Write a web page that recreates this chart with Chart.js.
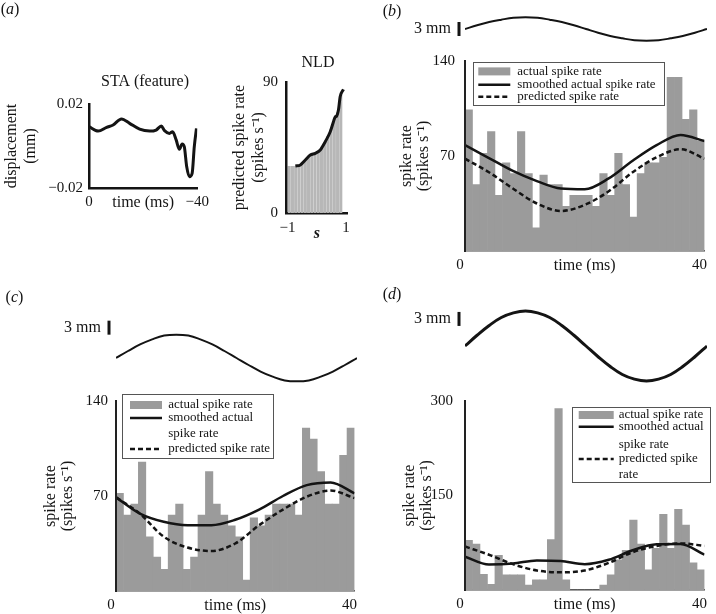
<!DOCTYPE html>
<html>
<head>
<meta charset="utf-8">
<title>Spike rate figure</title>
<script src="https://cdn.jsdelivr.net/npm/chart.js@4.4.1/dist/chart.umd.min.js"></script>
<style>
  html, body { margin: 0; padding: 0; background: #fff; }
  #fig { position: relative; width: 716px; height: 614px; overflow: hidden; }
  #fig canvas { position: absolute; }
</style>
</head>
<body>
<div id="fig">
  <canvas id="staChart"></canvas>
  <canvas id="nldChart"></canvas>
  <canvas id="stimB"></canvas>
  <canvas id="rateB"></canvas>
  <canvas id="stimC"></canvas>
  <canvas id="rateC"></canvas>
  <canvas id="stimD"></canvas>
  <canvas id="rateD"></canvas>
</div>
<script>
// ---- values ----

// (a) STA: time before spike (ms), displacement (mm)
var staTimes = [0, -3.4, -6.5, -8.9, -12, -15, -18.7, -22.4, -24.8, -26.7, -27.9, -29.7, -30.9, -32.2, -33.4, -34.4, -35.2, -36.1, -37.1, -38.1, -38.9, -39.7];
var staValues = [0.0092, 0.0071, 0.0089, 0.0100, 0.0129, 0.0108, 0.0080, 0.0071, 0.0076, 0.0095, 0.0073, 0.0060, 0.0068, 0.0029, -0.0016, 0.0010, -0.0003, -0.0099, -0.0146, -0.0130, -0.0003, 0.0084];

// (a) NLD: projection s, predicted spike rate
var nldS = [-0.94, -0.83, -0.72, -0.61, -0.5, -0.39, -0.28, -0.17, -0.06, 0.05, 0.16, 0.27, 0.38, 0.49, 0.6, 0.71, 0.82];
var nldBars = [32, 32, 32, 33, 34, 36, 39, 40.5, 41, 42.5, 44.5, 48, 52.5, 57.5, 64.5, 69, 81];
var nldLineS = [-0.73, -0.56, -0.39, -0.22, -0.05, 0.12, 0.29, 0.46, 0.57, 0.63, 0.68, 0.74, 0.8, 0.91];
var nldLine = [32.3, 33, 36.4, 39.8, 41, 43.3, 49, 55.8, 62.7, 66, 66.6, 70.7, 80, 85];

// stimulus traces (mm), sampled every 2 ms
var stimTimes = [0, 2, 4, 6, 8, 10, 12, 14, 16, 18, 20, 22, 24, 26, 28, 30, 32, 34, 36, 38, 40];
var stimB = [0, 0.8, 1.5, 2.0, 2.4, 2.5, 2.4, 2.0, 1.5, 0.8, 0, -0.8, -1.5, -2.0, -2.4, -2.5, -2.4, -2.0, -1.5, -0.8, 0];
var stimC = [0, 1.5, 2.9, 4.0, 4.8, 5.0, 4.8, 4.0, 2.9, 1.5, 0, -1.5, -2.9, -4.0, -4.8, -5.0, -4.8, -4.0, -2.9, -1.5, 0];
var stimD = [0, 2.3, 4.4, 6.1, 7.1, 7.5, 7.1, 6.1, 4.4, 2.3, 0, -2.3, -4.4, -6.1, -7.1, -7.5, -7.1, -6.1, -4.4, -2.3, 0];

// spike rates (spikes/s): 32 histogram bins over 40 ms, curves sampled every 4 ms
var lineTimes = [0, 4, 8, 12, 16, 20, 24, 28, 32, 36, 40];
var barsB = [104, 49, 72, 88, 41, 65, 57, 88, 57, 17, 56, 49, 49, 33, 41, 41, 41, 33, 57, 41, 72, 49, 25, 57, 65, 65, 69, 128, 128, 97, 104, 81];
var smoothB = [78, 68.5, 59, 51.5, 46, 45.5, 53.5, 66.5, 78, 85.5, 81];
var predB = [68, 58, 46, 35, 29.5, 34, 44, 58, 69, 75, 68];

var barsC = [72, 56, 64, 95, 40, 25, 16, 56, 64, 16, 25, 56, 88, 64, 56, 48, 40, 8, 54, 48, 56, 64, 64, 64, 56, 120, 112, 88, 64, 64, 100, 120];
var smoothC = [69, 57, 51, 48.5, 48.5, 52.5, 60, 70, 78, 80, 72];
var predC = [69, 57, 40, 32, 29.5, 35, 48.5, 60, 69.5, 74, 68.5];

var barsD = [79, 73, 25, 9, 55, 24, 24, 24, 8, 16, 16, 80, 288, 16, 0, 0, 0, 0, 8, 24, 48, 63, 111, 73, 32, 66, 120, 66, 128, 103, 43, 32];
var smoothD = [53, 40.5, 42, 47, 46, 41, 48, 63, 72.5, 73, 56];
var predD = [69, 56, 41, 31, 28, 31, 43, 60, 70, 74, 70];

// ---- styling ----
var ink = '#141414';
var barGray = '#9b9b9b';
var serif = "'Liberation Serif', 'Times New Roman', serif";

Chart.defaults.font.family = serif;
Chart.defaults.font.size = 15;
Chart.defaults.color = ink;
Chart.defaults.animation = false;
Chart.defaults.plugins.legend.display = false;
Chart.defaults.plugins.tooltip.enabled = false;

function points(xs, ys) {
  return xs.map(function (x, i) { return { x: x, y: ys[i] }; });
}

function minusLabel(v) {
  return v < 0 ? '\u2212' + Math.abs(v) : '' + v;
}

function placeCanvas(id, left, top, width, height) {
  var c = document.getElementById(id);
  c.width = width;
  c.height = height;
  c.style.left = left + 'px';
  c.style.top = top + 'px';
  return c.getContext('2d');
}

function fixedTicks(values) {
  return function (scale) {
    scale.ticks = values.map(function (v) { return { value: v }; });
  };
}

var noGrid = { display: false, drawTicks: false };

// free text and panel letters, given in page coordinates
var notes = {
  id: 'notes',
  defaults: {},
  afterDraw: function (chart, args, opts) {
    var ctx = chart.ctx;
    var ox = chart.canvas.offsetLeft, oy = chart.canvas.offsetTop;
    ctx.save();
    ctx.fillStyle = ink;
    ctx.textBaseline = 'middle';
    (opts.items || []).forEach(function (it) {
      ctx.font = '16px ' + serif;
      ctx.textAlign = 'center';
      ctx.fillText(it.text, it.x - ox, it.y - oy);
    });
    (opts.labels || []).forEach(function (lb) {
      var up = '16px ' + serif, it = 'italic 16px ' + serif;
      ctx.font = up;
      var wp = ctx.measureText('(').width;
      ctx.font = it;
      var wl = ctx.measureText(lb.letter).width;
      var x = lb.x - ox - (2 * wp + wl) / 2, y = lb.y - oy;
      ctx.textAlign = 'left';
      ctx.font = up;
      ctx.fillText('(', x, y);
      ctx.fillText(')', x + wp + wl, y);
      ctx.font = it;
      ctx.fillText(lb.letter, x + wp, y);
    });
    ctx.restore();
  }
};

// vertical 3 mm bar next to the stimulus trace
var scaleBar = {
  id: 'scaleBar',
  defaults: {},
  afterDraw: function (chart, args, opts) {
    if (!opts.label) return;
    var ctx = chart.ctx, ys = chart.scales.y;
    var x = chart.chartArea.left - opts.gap;
    var y1 = ys.getPixelForValue(opts.from);
    var y2 = ys.getPixelForValue(opts.from - opts.length);
    ctx.save();
    ctx.strokeStyle = ink;
    ctx.lineWidth = 3;
    ctx.beginPath();
    ctx.moveTo(x, y1);
    ctx.lineTo(x, y2);
    ctx.stroke();
    ctx.font = '16px ' + serif;
    ctx.fillStyle = ink;
    ctx.textAlign = 'right';
    ctx.textBaseline = 'middle';
    ctx.fillText(opts.label, x - 8, (y1 + y2) / 2);
    ctx.restore();
  }
};

// boxed legend inside the plot, samples styled from the datasets
var boxLegend = {
  id: 'boxLegend',
  defaults: {},
  afterDraw: function (chart, args, opts) {
    if (!opts.rows) return;
    var ctx = chart.ctx, a = chart.chartArea;
    var x0 = a.left + opts.x, y0 = a.top + opts.y;
    ctx.save();
    ctx.fillStyle = '#fff';
    ctx.fillRect(x0, y0, opts.w, opts.h);
    ctx.strokeStyle = '#555';
    ctx.lineWidth = 1;
    ctx.strokeRect(Math.round(x0) + 0.5, Math.round(y0) + 0.5, opts.w, opts.h);
    ctx.font = '13px ' + serif;
    ctx.textAlign = 'left';
    ctx.textBaseline = 'middle';
    opts.rows.forEach(function (row) {
      var y = y0 + row.y;
      var sx = x0 + opts.sampleX;
      var ds = row.ds >= 0 ? chart.data.datasets[row.ds] : null;
      if (ds && ds.type === 'bar') {
        ctx.fillStyle = ds.backgroundColor;
        ctx.fillRect(sx, y - 4, opts.sampleW, 8);
      } else if (ds) {
        ctx.strokeStyle = ds.borderColor;
        ctx.lineWidth = ds.borderWidth;
        ctx.setLineDash(ds.borderDash || []);
        ctx.beginPath();
        ctx.moveTo(sx, y);
        ctx.lineTo(sx + opts.sampleW, y);
        ctx.stroke();
        ctx.setLineDash([]);
      }
      ctx.fillStyle = ink;
      ctx.fillText(row.text, x0 + opts.textX, y);
    });
    ctx.restore();
  }
};

Chart.register(notes, scaleBar, boxLegend);

// (a) STA (feature)
var staChart = new Chart(placeCanvas('staChart', 0, 0, 214, 212), {
  type: 'line',
  data: {
    datasets: [{
      data: points(staTimes, staValues),
      borderColor: ink, borderWidth: 3, pointRadius: 0,
      cubicInterpolationMode: 'monotone'
    }]
  },
  options: {
    responsive: false,
    layout: { padding: { left: 0, top: 104, right: 16, bottom: 0 } },
    scales: {
      x: {
        type: 'linear', min: -40, max: 0, reverse: true,
        afterBuildTicks: fixedTicks([0, -40]),
        afterFit: function (s) { s.height = 24; },
        grid: noGrid,
        border: { color: ink, width: 2.5 },
        ticks: { padding: 5, maxRotation: 0, callback: minusLabel },
        title: { display: true, text: 'time (ms)', font: { size: 16 }, padding: 0 }
      },
      y: {
        min: -0.02, max: 0.02,
        afterBuildTicks: fixedTicks([-0.02, 0.02]),
        afterFit: function (s) { s.width = 89; },
        grid: noGrid,
        border: { color: ink, width: 2.5 },
        ticks: { padding: 6, callback: minusLabel },
        title: { display: true, text: ['displacement', '(mm)'], font: { size: 16 }, padding: { top: 2.4, bottom: 0 } }
      }
    },
    plugins: {
      notes: { labels: [{ letter: 'a', x: 10, y: 10 }], items: [{ text: 'STA (feature)', x: 145, y: 82 }] }
    }
  }
});

// (a) NLD
var nldChart = new Chart(placeCanvas('nldChart', 228, 45, 128, 198), {
  type: 'bar',
  data: {
    datasets: [{
      type: 'bar',
      data: points(nldS, nldBars),
      backgroundColor: '#b7b7b7', barThickness: 2.4, order: 2
    }, {
      type: 'line',
      data: points(nldLineS, nldLine),
      borderColor: ink, borderWidth: 3, pointRadius: 0,
      cubicInterpolationMode: 'monotone', order: 1
    }]
  },
  options: {
    responsive: false,
    layout: { padding: { left: 0, top: 37, right: 8, bottom: 0 } },
    scales: {
      x: {
        type: 'linear', min: -1.05, max: 1.05, offset: false,
        afterBuildTicks: fixedTicks([-1, 1]),
        afterFit: function (s) { s.height = 30; },
        grid: noGrid,
        border: { color: ink, width: 2.5 },
        ticks: { padding: 6, maxRotation: 0, callback: minusLabel },
        title: { display: true, text: 's', font: { size: 16, style: 'italic', weight: 'bold' }, padding: 0 }
      },
      y: {
        min: 0, max: 90,
        afterBuildTicks: fixedTicks([0, 90]),
        afterFit: function (s) { s.width = 58; },
        grid: noGrid,
        border: { color: ink, width: 2.5, z: 1 },
        ticks: { padding: 8 },
        title: { display: true, text: ['predicted spike rate', '(spikes s\u207B\u00B9)'], font: { size: 16 }, padding: { top: 2.4, bottom: 0 } }
      }
    },
    plugins: {
      notes: { items: [{ text: 'NLD', x: 318, y: 63 }] }
    }
  }
});

// stimulus traces above panels (b)-(d)
function stimulusPanel(id, left, top, width, height, padding, range, values, lineWidth, bar, letter) {
  return new Chart(placeCanvas(id, left, top, width, height), {
    type: 'line',
    data: {
      datasets: [{
        data: points(stimTimes, values),
        borderColor: ink, borderWidth: lineWidth, pointRadius: 0, tension: 0.4
      }]
    },
    options: {
      responsive: false,
      layout: { padding: padding },
      scales: {
        x: { type: 'linear', min: 0, max: 40, display: false },
        y: { min: -range, max: range, display: false }
      },
      plugins: { scaleBar: bar, notes: { labels: [letter] } }
    }
  });
}

var stimChartB = stimulusPanel('stimB', 370, 0, 342, 51, { left: 95, top: 8, right: 5, bottom: 1 }, 4.5, stimB, 2,
  { from: 1.5, length: 3, gap: 6, label: '3 mm' }, { letter: 'b', x: 392, y: 12 });
var stimChartC = stimulusPanel('stimC', 0, 285, 362, 118, { left: 116, top: 31, right: 5, bottom: 3 }, 9, stimC, 2,
  { from: 8, length: 3, gap: 7, label: '3 mm' }, { letter: 'c', x: 14.5, y: 298 });
var stimChartD = stimulusPanel('stimD', 370, 285, 342, 106, { left: 95, top: 19, right: 5, bottom: 3 }, 9, stimD, 3,
  { from: 7.3, length: 3, gap: 6, label: '3 mm' }, { letter: 'd', x: 392, y: 295 });

// spike rate panels: histogram, smoothed rate, predicted rate
function ratePanel(id, plot, bars, smooth, predicted, yMax, legend) {
  var T = 24, R = 10, B = 23;
  var ctx = placeCanvas(id, plot.left - plot.axisW, plot.top - T, plot.axisW + plot.width + R, T + plot.height + B);
  var centers = bars.map(function (_, i) { return (i + 0.5) * 40 / bars.length; });
  return new Chart(ctx, {
    type: 'bar',
    data: {
      datasets: [{
        type: 'bar', label: 'actual spike rate',
        data: points(centers, bars),
        backgroundColor: barGray, barPercentage: 1, categoryPercentage: 1, order: 3
      }, {
        type: 'line', label: 'smoothed actual spike rate',
        data: points(lineTimes, smooth),
        borderColor: ink, borderWidth: 2.5, pointRadius: 0,
        cubicInterpolationMode: 'monotone', order: 1
      }, {
        type: 'line', label: 'predicted spike rate',
        data: points(lineTimes, predicted),
        borderColor: ink, borderWidth: 2.5, borderDash: [5, 3], pointRadius: 0,
        cubicInterpolationMode: 'monotone', order: 2
      }]
    },
    options: {
      responsive: false,
      layout: { padding: { left: 0, top: T, right: R, bottom: 0 } },
      scales: {
        x: {
          type: 'linear', min: 0, max: 40, offset: false,
          afterBuildTicks: fixedTicks([0, 40]),
          afterFit: function (s) { s.height = B; },
          grid: noGrid,
          border: { color: '#444', width: 1.5 },
          ticks: { padding: 5, labelOffset: -5, maxRotation: 0 },
          title: { display: true, text: 'time (ms)', font: { size: 16, lineHeight: 1.07 }, padding: 0 }
        },
        y: {
          min: 0, max: yMax,
          afterBuildTicks: fixedTicks([yMax / 2, yMax]),
          afterFit: function (s) { s.width = plot.axisW; },
          grid: noGrid,
          border: { color: '#222', width: 2, z: 1 },
          ticks: { padding: plot.tickPad },
          title: {
            display: true, text: ['spike rate', '(spikes s\u207B\u00B9)'],
            font: { size: 16, lineHeight: 1.07 }, padding: { top: 8.45, bottom: 0 }
          }
        }
      },
      plugins: { boxLegend: legend }
    }
  });
}

var rateChartB = ratePanel('rateB', { left: 465, top: 61, width: 242, height: 190, axisW: 75, tickPad: 10 },
  barsB, smoothB, predB, 140, {
    x: 7.7, y: 0.7, w: 191, h: 43, sampleX: 5.6, sampleW: 32, textX: 44.6,
    rows: [
      { ds: 0, y: 9.7, text: 'actual spike rate' },
      { ds: 1, y: 23, text: 'smoothed actual spike rate' },
      { ds: 2, y: 35, text: 'predicted spike rate' }
    ]
  });

var rateChartC = ratePanel('rateC', { left: 116, top: 401, width: 241, height: 190, axisW: 82, tickPad: 8 },
  barsC, smoothC, predC, 140, {
    x: 5.7, y: -7, w: 151, h: 64, sampleX: 8.3, sampleW: 32, textX: 46.6,
    rows: [
      { ds: 0, y: 11, text: 'actual spike rate' },
      { ds: 1, y: 24, text: 'smoothed actual' },
      { ds: -1, y: 40, text: 'spike rate' },
      { ds: 2, y: 55, text: 'predicted spike rate' }
    ]
  });

var rateChartD = ratePanel('rateD', { left: 465, top: 401, width: 242, height: 189, axisW: 72, tickPad: 12 },
  barsD, smoothD, predD, 300, {
    x: 107, y: 5.7, w: 138, h: 75, sampleX: 6.7, sampleW: 35, textX: 46.7,
    rows: [
      { ds: 0, y: 8.3, text: 'actual spike rate' },
      { ds: 1, y: 20, text: 'smoothed actual' },
      { ds: -1, y: 38.3, text: 'spike rate' },
      { ds: 2, y: 52.3, text: 'predicted spike' },
      { ds: -1, y: 67.6, text: 'rate' }
    ]
  });
</script>
</body>
</html>
